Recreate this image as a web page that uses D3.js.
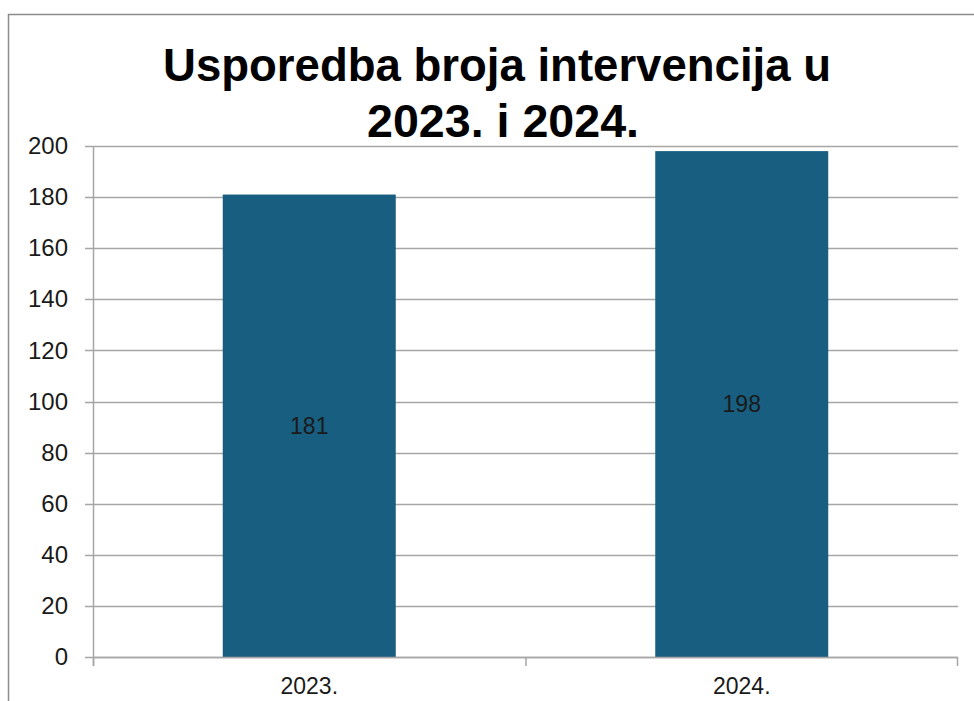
<!DOCTYPE html>
<html>
<head>
<meta charset="utf-8">
<script src="https://cdn.jsdelivr.net/npm/d3@7"></script>
<style>
  body { margin: 0; background: #fff; }
  svg { display: block; font-family: "Liberation Sans", Arial, sans-serif; }
</style>
</head>
<body>
<svg id="chart"></svg>
<script>
const years = ['2023.', '2024.']
const interventions = [181, 198]
const yTicks = [0, 20, 40, 60, 80, 100, 120, 140, 160, 180, 200]
const titleLines = ['Usporedba broja intervencija u', '2023. i 2024.']

const width = 974
const height = 701
const margin = { top: 146, right: 16, bottom: 44, left: 93 }

const svg = d3.select('#chart')
    .attr('width', width)
    .attr('height', height)

// outer frame (top + left edges visible)
svg.append('path')
    .attr('d', `M8.5,${height} V14.5 H${width}`)
    .attr('fill', 'none')
    .attr('stroke', '#8c8c8c')
    .attr('stroke-width', 1.5)

const innerW = width - margin.left - margin.right
const innerH = height - margin.top - margin.bottom

const chart = svg.append('g')
    .attr('transform', `translate(${margin.left}, ${margin.top})`)

const xScale = d3.scaleBand()
    .domain(years)
    .range([0, innerW])
    .paddingInner(0.6)
    .paddingOuter(0.3)

const yScale = d3.scaleLinear()
    .domain([0, 200])
    .range([innerH, 0])

// gridlines
chart.append('g')
    .selectAll('line')
    .data(yTicks)
    .join('line')
        .attr('x1', -8)
        .attr('x2', innerW)
        .attr('y1', d => Math.round(yScale(d)) + 0.5)
        .attr('y2', d => Math.round(yScale(d)) + 0.5)
        .attr('stroke', '#a6a6a6')
        .attr('stroke-width', 1.5)

// y axis
const yAxis = d3.axisLeft(yScale).tickValues(yTicks).tickSize(0).tickPadding(25)
chart.append('g')
    .call(yAxis)
    .call(g => g.select('.domain').remove())
    .selectAll('text')
        .attr('font-size', 24)
        .attr('fill', '#1a1a1a')
        .attr('font-family', '"Liberation Sans", Arial, sans-serif')

chart.append('line')
    .attr('x1', 0.5).attr('x2', 0.5)
    .attr('y1', 0).attr('y2', innerH + 9)
    .attr('stroke', '#a6a6a6')
    .attr('stroke-width', 1.5)

// bars
chart.selectAll('.bar')
    .data(interventions)
    .join('rect')
        .attr('class', 'bar')
        .attr('x', (d, i) => xScale(years[i]))
        .attr('width', xScale.bandwidth())
        .attr('y', d => yScale(d))
        .attr('height', d => innerH - yScale(d))
        .attr('fill', '#185e80')

// value labels
chart.selectAll('.val')
    .data(interventions)
    .join('text')
        .attr('class', 'val')
        .attr('x', (d, i) => xScale(years[i]) + xScale.bandwidth() / 2)
        .attr('y', d => (yScale(d) + innerH) / 2)
        .attr('dy', '0.35em')
        .attr('text-anchor', 'middle')
        .attr('font-size', 23)
        .attr('fill', '#1a1a1a')
        .text(d => d)

// x axis baseline and boundary ticks
chart.append('line')
    .attr('x1', 0).attr('x2', innerW)
    .attr('y1', innerH + 0.5).attr('y2', innerH + 0.5)
    .attr('stroke', '#a6a6a6')
    .attr('stroke-width', 1.5)

const step = xScale.step()
chart.append('g')
    .selectAll('line')
    .data(d3.range(years.length + 1))
    .join('line')
        .attr('x1', i => Math.min(i * step, innerW - 1) + 0.5)
        .attr('x2', i => Math.min(i * step, innerW - 1) + 0.5)
        .attr('y1', innerH)
        .attr('y2', innerH + 9)
        .attr('stroke', '#a6a6a6')
        .attr('stroke-width', 1.5)

chart.selectAll('.xlab')
    .data(years)
    .join('text')
        .attr('class', 'xlab')
        .attr('x', d => xScale(d) + xScale.bandwidth() / 2)
        .attr('y', innerH + 37)
        .attr('text-anchor', 'middle')
        .attr('font-size', 23)
        .attr('fill', '#1a1a1a')
        .text(d => d)

// title
svg.selectAll('.title')
    .data(titleLines)
    .join('text')
        .attr('class', 'title')
        .attr('x', (d, i) => i === 0 ? 497 : 503)
        .attr('y', (d, i) => 81 + i * 56)
        .attr('text-anchor', 'middle')
        .attr('font-size', 46)
        .attr('font-weight', 'bold')
        .attr('fill', '#000')
        .attr('textLength', (d, i) => i === 0 ? 668 : 272)
        .attr('lengthAdjust', 'spacingAndGlyphs')
        .text(d => d)
</script>
</body>
</html>
